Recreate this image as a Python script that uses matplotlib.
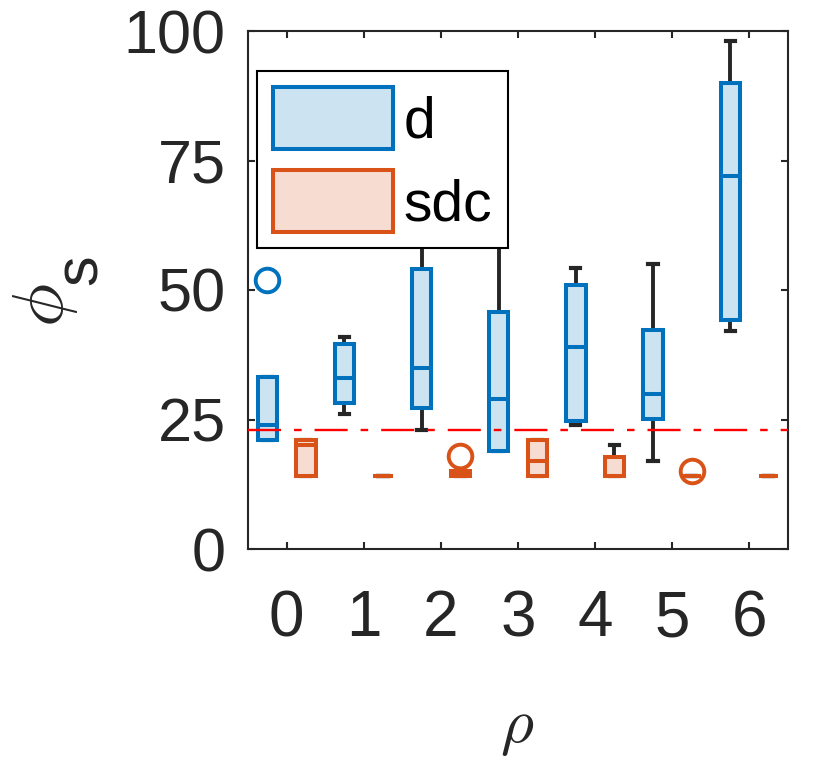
import numpy as np
import matplotlib
matplotlib.use("Agg")
import matplotlib.pyplot as plt
from matplotlib.patches import Patch

plt.rcParams['font.family'] = ['Liberation Sans', 'DejaVu Sans']
plt.rcParams['mathtext.fontset'] = 'cm'

# ---- data ----
groups = [0, 1, 2, 3, 4, 5, 6]
tick_labels = ['0', '1', '2', '3', '4', '5', '6']

d_q1 = [21, 28.2, 27.3, 19, 24.8, 25.1, 44.3]
d_med = [24, 33, 35, 29, 39, 30, 72]
d_q3 = [33.3, 39.5, 54, 45.7, 51, 42.3, 89.9]
d_whislo = [21, 26, 23, 19, 24, 17, 42]
d_whishi = [33.3, 41, 65, 62, 54.2, 55, 98]
d_fliers = [[52], [], [], [], [], [], []]

s_q1 = [14, 14, 14, 14, 14, 14, 14]
s_med = [20, 14, 14.5, 17, 14, 14, 14]
s_q3 = [21, 14, 15, 21, 17.7, 14, 14]
s_whislo = [14, 14, 14, 14, 14, 14, 14]
s_whishi = [21, 14, 15, 21, 20, 14, 14]
s_fliers = [[], [], [18], [], [], [15], []]

threshold = 23
series_names = ['d', 'sdc']

blue = '#0072BD'
blue_fill = '#CCE3F2'
orange = '#D95319'
orange_fill = '#F7DCD1'
dark = '#262626'


def make_stats(q1, med, q3, lo, hi, fl):
    return [dict(q1=a, med=b, q3=c, whislo=e, whishi=f, fliers=g)
            for a, b, c, e, f, g in zip(q1, med, q3, lo, hi, fl)]


fig = plt.figure(figsize=(8.3, 7.63), dpi=100)
ax = fig.add_axes([248/830, 1-549/763, 540/830, 518/763])

pos = np.array(groups, dtype=float)
for stats, off, ec, fc in [
        (make_stats(d_q1, d_med, d_q3, d_whislo, d_whishi, d_fliers), -0.25, blue, blue_fill),
        (make_stats(s_q1, s_med, s_q3, s_whislo, s_whishi, s_fliers), 0.25, orange, orange_fill)]:
    ax.bxp(stats, positions=pos + off, widths=0.25, capwidths=0.12,
           patch_artist=True, manage_ticks=False,
           boxprops=dict(facecolor=fc, edgecolor=ec, linewidth=2.9, zorder=2),
           medianprops=dict(color=ec, linewidth=2.9, zorder=2.1),
           whiskerprops=dict(color=dark, linewidth=2.8, zorder=1.5),
           capprops=dict(color=dark, linewidth=3.0, zorder=1.5),
           flierprops=dict(marker='o', markerfacecolor='none', markeredgecolor=ec,
                           markersize=17, markeredgewidth=2.8, zorder=2))

ax.axhline(threshold, color='red', linewidth=1.7, linestyle=(0, (14, 5.5, 3.2, 5.5)), zorder=3)

ax.set_xlim(-0.5, 6.5)
ax.set_ylim(0, 100)
ax.set_xticks(groups)
ax.set_xticklabels(tick_labels)
ax.set_yticks([0, 25, 50, 75, 100])
ax.tick_params(axis='both', direction='in', length=5, width=1.5, colors=dark,
               top=True, right=True)
ax.tick_params(axis='x', pad=29, labelsize=46)
ax.tick_params(axis='y', pad=16, labelsize=44)
for sp in ax.spines.values():
    sp.set_linewidth(1.5)
    sp.set_color(dark)

fig.text(517/830, 1-728/763, r'$\rho$', fontsize=46, color=dark, ha='center', va='center')
fig.text(45/830, 1-305/763, r'$\phi$', fontsize=52, color=dark,
         rotation=90, ha='center', va='center')
fig.text(81/830, 1-270/763, 's', fontsize=44, color=dark,
         rotation=90, ha='center', va='center')

handles = [Patch(facecolor=blue_fill, edgecolor=blue, linewidth=2.9),
           Patch(facecolor=orange_fill, edgecolor=orange, linewidth=2.9)]
leg = ax.legend(handles, series_names, loc='upper left',
                bbox_to_anchor=(9/540, (549-71)/518), borderaxespad=0,
                fontsize=41, handlelength=2.1, handleheight=1.3,
                handletextpad=0.2, labelspacing=0.37, borderpad=0.28,
                fancybox=False, framealpha=1, edgecolor='black')
leg.get_frame().set_linewidth(1.5)
leg.set_zorder(5)

fig.savefig('out.png', dpi=100)
